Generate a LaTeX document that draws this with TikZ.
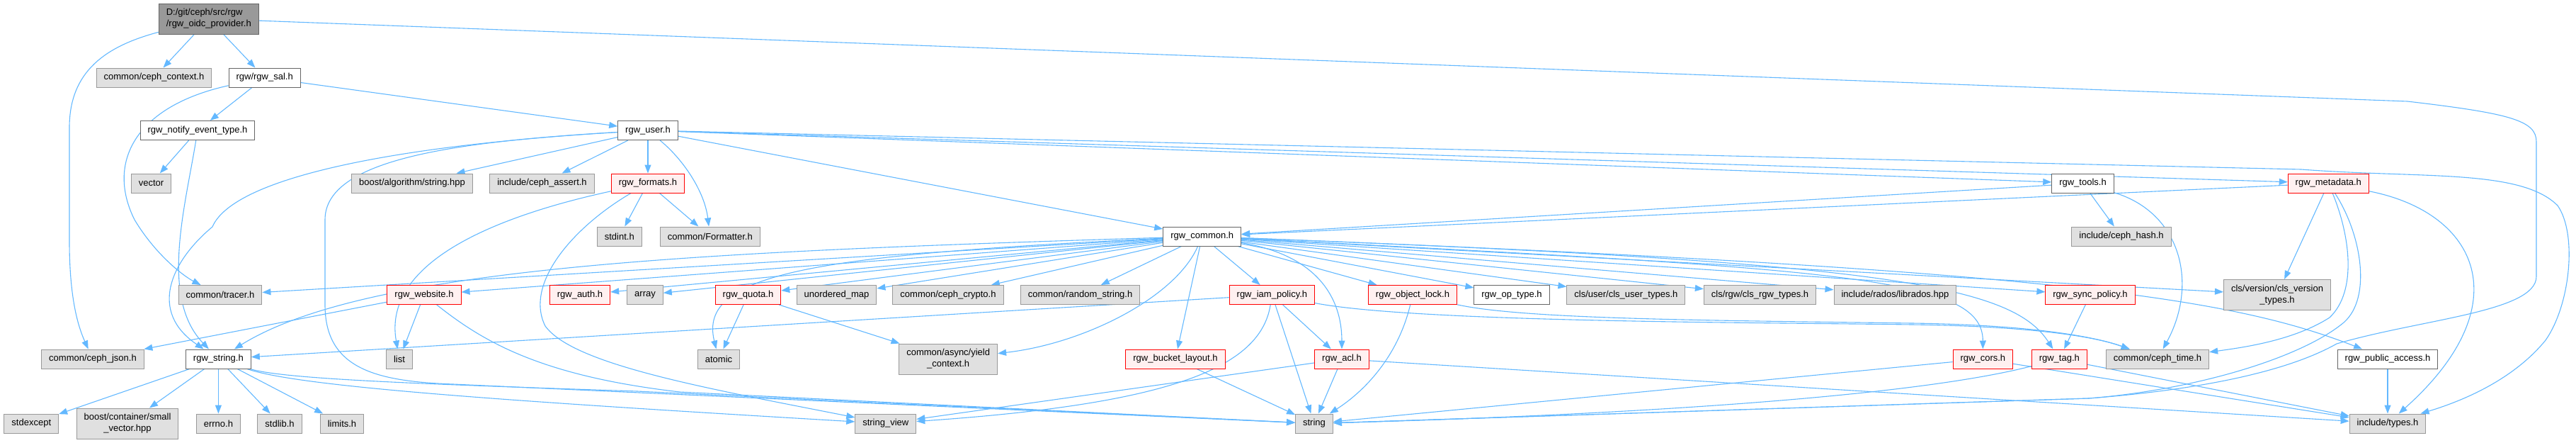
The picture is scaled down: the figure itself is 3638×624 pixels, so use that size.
\documentclass[tikz,border=0pt]{standalone}
\usepackage{fontspec}
\setmainfont{Liberation Sans}
\usepackage{tikz}
\usetikzlibrary{arrows.meta,backgrounds}
\definecolor{edgeblue}{RGB}{99,184,255}
\definecolor{docgray}{RGB}{102,102,102}
\definecolor{extgray}{RGB}{153,153,153}
\definecolor{extfill}{RGB}{224,224,224}
\definecolor{rootfill}{RGB}{153,153,153}
\definecolor{truncred}{RGB}{255,0,0}
\definecolor{truncfill}{RGB}{255,240,240}

\begin{document}
\begin{tikzpicture}[x=1pt, y=-1pt, >={Triangle[length=12pt,width=9pt]}, font=\fontsize{13}{16}\selectfont]
  \tikzstyle{box}=[draw, rectangle, line width=1pt, inner xsep=10.5pt, inner ysep=7pt, minimum height=27pt, align=center]
  \tikzstyle{doc}=[box, draw=docgray, fill=white]
  \tikzstyle{ext}=[box, draw=extgray, fill=extfill]
  \tikzstyle{trunc}=[box, draw=truncred, fill=truncfill]
  \tikzstyle{dep}=[->, draw=edgeblue, line width=1.1pt]
  \useasboundingbox (0,0) rectangle (3638,624);

  % row 0-2
  \node[box, draw=docgray, fill=rootfill, align=left, minimum height=43pt] (root) at (294.8,26.5) {D:/git/ceph/src/rgw\\/rgw\_oidc\_provider.h};
  \node[ext] (ctx) at (217.5,109.5) {common/ceph\_context.h};
  \node[doc] (sal) at (373.7,109.5) {rgw/rgw\_sal.h};
  \node[doc] (notify) at (279,184) {rgw\_notify\_event\_type.h};
  \node[doc] (user) at (915,184) {rgw\_user.h};
  % row 3
  \node[ext] (vec) at (213.5,258.5) {vector};
  \node[ext] (balgo) at (582,258.5) {boost/algorithm/string.hpp};
  \node[ext] (cassert) at (765.5,258.5) {include/ceph\_assert.h};
  \node[trunc] (fmts) at (915,258.5) {rgw\_formats.h};
  \node[doc] (tools) at (2941.5,258.5) {rgw\_tools.h};
  \node[trunc] (meta) at (3288.3,258.5) {rgw\_metadata.h};
  % row 4
  \node[ext] (stdint) at (874.8,333.5) {stdint.h};
  \node[ext] (fmtr) at (1002.8,333.5) {common/Formatter.h};
  \node[doc] (common) at (1697.7,333.5) {rgw\_common.h};
  \node[ext] (chash) at (2996,333.5) {include/ceph\_hash.h};
  % row 5
  \node[ext] (tracer) at (311,416) {common/tracer.h};
  \node[trunc] (web) at (599,416) {rgw\_website.h};
  \node[trunc] (auth) at (819,416) {rgw\_auth.h};
  \node[ext] (array) at (911,416) {array};
  \node[trunc] (quota) at (1056.5,416) {rgw\_quota.h};
  \node[ext] (umap) at (1181.5,416) {unordered\_map};
  \node[ext] (crypto) at (1339,416) {common/ceph\_crypto.h};
  \node[ext] (rnd) at (1525.6,416) {common/random\_string.h};
  \node[trunc] (iam) at (1796.4,416) {rgw\_iam\_policy.h};
  \node[trunc] (olock) at (1995,416) {rgw\_object\_lock.h};
  \node[doc] (optype) at (2135,416) {rgw\_op\_type.h};
  \node[ext] (clsuser) at (2296.4,416) {cls/user/cls\_user\_types.h};
  \node[ext] (clsrgw) at (2485.5,416) {cls/rgw/cls\_rgw\_types.h};
  \node[ext] (rados) at (2676.4,416) {include/rados/librados.hpp};
  \node[trunc] (sync) at (2952,416) {rgw\_sync\_policy.h};
  \node[ext, minimum height=43pt] (clsver) at (3216,416) {cls/version/cls\_version\\\_types.h};
  % row 6
  \node[ext] (json) at (131,506.5) {common/ceph\_json.h};
  \node[doc] (rstr) at (308.4,506.5) {rgw\_string.h};
  \node[ext] (list) at (564,506.5) {list};
  \node[ext] (atomic) at (1015,506.5) {atomic};
  \node[ext, minimum height=43pt] (yield) at (1339.2,506.5) {common/async/yield\\\_context.h};
  \node[trunc] (blayout) at (1660,506.5) {rgw\_bucket\_layout.h};
  \node[trunc] (acl) at (1895,506.5) {rgw\_acl.h};
  \node[trunc] (cors) at (2800.4,506.5) {rgw\_cors.h};
  \node[trunc] (tag) at (2908.3,506.5) {rgw\_tag.h};
  \node[ext] (ctime) at (3047,506.5) {common/ceph\_time.h};
  \node[doc] (pub) at (3372,506.5) {rgw\_public\_access.h};
  % row 7
  \node[ext] (stdexc) at (44.3,597.5) {stdexcept};
  \node[ext, minimum height=43pt] (svec) at (180,597.5) {boost/container/small\\\_vector.hpp};
  \node[ext] (errno) at (308.4,597.5) {errno.h};
  \node[ext] (stdlib) at (395,597.5) {stdlib.h};
  \node[ext] (limits) at (483,597.5) {limits.h};
  \node[ext] (sview) at (1250.8,597.5) {string\_view};
  \node[ext] (string) at (1856,597.5) {string};
  \node[ext] (types) at (3372,597.5) {include/types.h};

  \begin{scope}[on background layer]
  % root
  \draw[dep] (root) -- (ctx);
  \draw[dep] (root) -- (sal);
  \draw[dep] (root) .. controls (150,65) and (98,100) .. (98,180) -- (98,340) .. controls (98,420) and (110,460) .. (json);
  \draw[dep] (root) -- (3400,143) .. controls (3545,160) and (3582,170) .. (3582,200) -- (3582,390) .. controls (3582,440) and (3420,450) .. (3300,485) .. controls (3220,530) and (3080,552) .. (2950,562) -- (string);
  % sal, notify
  \draw[dep] (sal) -- (notify);
  \draw[dep] (sal) -- (user);
  \draw[dep] (sal) .. controls (190,150) and (150,230) .. (190,310) .. controls (220,360) and (260,390) .. (tracer);
  \draw[dep] (notify) -- (vec);
  \draw[dep] (notify) .. controls (262,290) and (225,420) .. (rstr);
  % user
  \draw[dep] (user) -- (balgo);
  \draw[dep] (user) -- (cassert);
  \draw[dep] (user) -- (fmts);
  \draw[dep] (user) .. controls (965,225) and (995,270) .. (fmtr);
  \draw[dep] (user) -- (tools);
  \draw[dep] (user) -- (meta);
  \draw[dep] (user) -- (common);
  \draw[dep] (user) -- (3250,239) .. controls (3420,252) and (3560,238) .. (3612,290) .. controls (3640,330) and (3630,430) .. (3595,480) .. controls (3550,535) and (3480,565) .. (types);
  \draw[dep] (user) .. controls (640,200) and (459,225) .. (459,310) -- (459,430) .. controls (459,520) and (530,538) .. (640,542) -- (string);
  \draw[dep] (user) .. controls (560,205) and (330,250) .. (300,320) .. controls (240,370) and (210,440) .. (rstr);
  % formats
  \draw[dep] (fmts) -- (stdint);
  \draw[dep] (fmts) -- (fmtr);
  \draw[dep] (fmts) .. controls (700,305) and (540,370) .. (list);
  \draw[dep] (fmts) .. controls (810,320) and (740,400) .. (770,460) .. controls (810,515) and (1000,548) .. (sview);
  % tools, metadata
  \draw[dep] (tools) -- (chash);
  \draw[dep] (tools) -- (common);
  \draw[dep] (tools) .. controls (3080,300) and (3105,400) .. (ctime);
  \draw[dep] (meta) -- (common);
  \draw[dep] (meta) -- (clsver);
  \draw[dep] (meta) .. controls (3500,300) and (3560,430) .. (types);
  \draw[dep] (meta) .. controls (3318,330) and (3330,410) .. (3290,448) .. controls (3240,480) and (3170,490) .. (ctime);
  \draw[dep] (meta) .. controls (3335,330) and (3350,420) .. (3310,455) .. controls (3250,505) and (3100,550) .. (2950,562) -- (string);
  % common
  \draw[dep] (common) -- (tracer);
  \draw[dep] (common) .. controls (1000,355) and (520,375) .. (rstr);
  \draw[dep] (common) -- (web);
  \draw[dep] (common) -- (auth);
  \draw[dep] (common) -- (array);
  \draw[dep] (common) -- (quota);
  \draw[dep] (common) .. controls (1150,360) and (985,385) .. (atomic);
  \draw[dep] (common) -- (umap);
  \draw[dep] (common) -- (crypto);
  \draw[dep] (common) -- (rnd);
  \draw[dep] (common) .. controls (1660,420) and (1530,485) .. (yield);
  \draw[dep] (common) -- (blayout);
  \draw[dep] (common) -- (iam);
  \draw[dep] (common) .. controls (1860,360) and (1895,420) .. (acl);
  \draw[dep] (common) -- (olock);
  \draw[dep] (common) -- (optype);
  \draw[dep] (common) -- (clsuser);
  \draw[dep] (common) -- (clsrgw);
  \draw[dep] (common) -- (rados);
  \draw[dep] (common) .. controls (2600,380) and (2800,390) .. (cors);
  \draw[dep] (common) .. controls (2650,370) and (2840,400) .. (tag);
  \draw[dep] (common) -- (sync);
  \draw[dep] (common) -- (clsver);
  \draw[dep] (common) .. controls (2900,380) and (3150,420) .. (pub);
  % website, string
  \draw[dep] (web) -- (list);
  \draw[dep] (web) -- (json);
  \draw[dep] (web) .. controls (680,480) and (760,530) .. (960,553) -- (string);
  \draw[dep] (rstr) -- (stdexc);
  \draw[dep] (rstr) -- (svec);
  \draw[dep] (rstr) -- (errno);
  \draw[dep] (rstr) -- (stdlib);
  \draw[dep] (rstr) -- (limits);
  \draw[dep] (rstr) .. controls (420,545) and (700,565) .. (sview);
  \draw[dep] (rstr) .. controls (400,535) and (600,542) .. (900,552) -- (string);
  % quota, iam, lock, acl
  \draw[dep] (quota) -- (atomic);
  \draw[dep] (quota) -- (yield);
  \draw[dep] (iam) -- (rstr);
  \draw[dep] (iam) -- (acl);
  \draw[dep] (iam) -- (string);
  \draw[dep] (iam) .. controls (1780,520) and (1650,570) .. (sview);
  \draw[dep] (iam) .. controls (2000,455) and (2500,455) .. (2700,458) .. controls (2850,460) and (2950,472) .. (ctime);
  \draw[dep] (olock) .. controls (2150,450) and (2400,452) .. (2700,456) .. controls (2850,458) and (2950,472) .. (ctime);
  \draw[dep] (olock) .. controls (1975,500) and (1930,550) .. (string);
  \draw[dep] (acl) -- (string);
  \draw[dep] (acl) -- (sview);
  \draw[dep] (acl) -- (types);
  \draw[dep] (blayout) -- (string);
  % cors, tag, sync, public access
  \draw[dep] (cors) -- (string);
  \draw[dep] (cors) -- (types);
  \draw[dep] (tag) .. controls (2700,560) and (2300,585) .. (string);
  \draw[dep] (tag) -- (types);
  \draw[dep] (sync) -- (tag);
  \draw[dep] (pub) -- (types);
  \end{scope}
\end{tikzpicture}
\end{document}
